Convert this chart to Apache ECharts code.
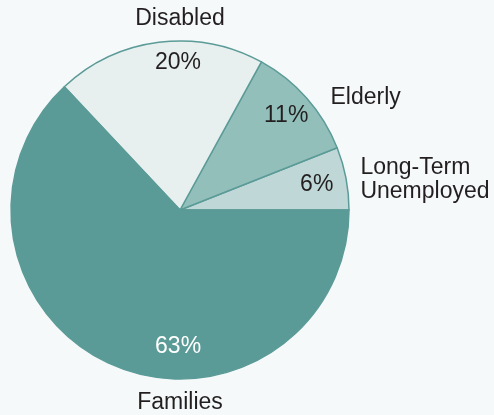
<!DOCTYPE html>
<html>
<head>
<meta charset="utf-8">
<script src="https://cdn.jsdelivr.net/npm/echarts@6/dist/echarts.min.js"></script>
<style>
  html, body { margin: 0; padding: 0; background: #f5f9f9; }
  #chart { width: 494px; height: 415px; }
</style>
</head>
<body>
<div id="chart"></div>
<script>
// Share of recipients by group (percent)
const categories = ['Long-Term\nUnemployed', 'Elderly', 'Disabled', 'Families'];
const shares = [6, 11, 20, 63];
const sliceColors = ['#bfd7d6', '#93bfbb', '#e7f0ef', '#5b9b97'];

// Pie geometry (pixels)
const CX = 180, CY = 210, R = 169;

// Label anchors around the pie centre: [angle in degrees (counter-clockwise from east), distance in px, align]
const valueAnchors = [[10.4, 139, 'center'], [41.6, 142, 'center'], [90.8, 147, 'center'], [269.2, 137, 'center']];
const nameAnchors = [[9.7, 183, 'left'], [31.2, 217, 'center'], [90, 191, 'center'], [270, 193, 'center']];

function anchorLayout(anchors) {
  return function (params) {
    const a = anchors[params.dataIndex];
    const rad = a[0] * Math.PI / 180;
    return {
      x: CX + a[1] * Math.cos(rad),
      y: CY - a[1] * Math.sin(rad),
      align: a[2],
      verticalAlign: 'middle'
    };
  };
}

const textFont = { fontFamily: '"Liberation Sans", Arial, Helvetica, sans-serif', fontSize: 23 };

const chart = echarts.init(document.getElementById('chart'), null, { renderer: 'canvas' });
chart.setOption({
  backgroundColor: '#f5f9f9',
  animation: false,
  series: [
    {
      type: 'pie',
      center: [CX, CY],
      radius: R,
      startAngle: 0,
      clockwise: false,
      silent: true,
      itemStyle: { borderColor: '#5b9b97', borderWidth: 1.5 },
      label: Object.assign({ show: true, position: 'inside', formatter: '{c}%', color: '#231f20' }, textFont),
      labelLine: { show: false },
      labelLayout: anchorLayout(valueAnchors),
      data: categories.map((name, i) => ({
        name: name,
        value: shares[i],
        itemStyle: { color: sliceColors[i] },
        label: i === 3 ? { color: '#ffffff' } : {}
      }))
    },
    {
      type: 'pie',
      center: [CX, CY],
      radius: R,
      startAngle: 0,
      clockwise: false,
      silent: true,
      itemStyle: { color: 'rgba(0,0,0,0)', borderWidth: 0 },
      label: Object.assign({ show: true, position: 'inside', formatter: '{b}', color: '#231f20', lineHeight: 24 }, textFont),
      labelLine: { show: false },
      labelLayout: anchorLayout(nameAnchors),
      data: categories.map((name, i) => ({ name: name, value: shares[i] }))
    }
  ]
});
</script>
</body>
</html>
